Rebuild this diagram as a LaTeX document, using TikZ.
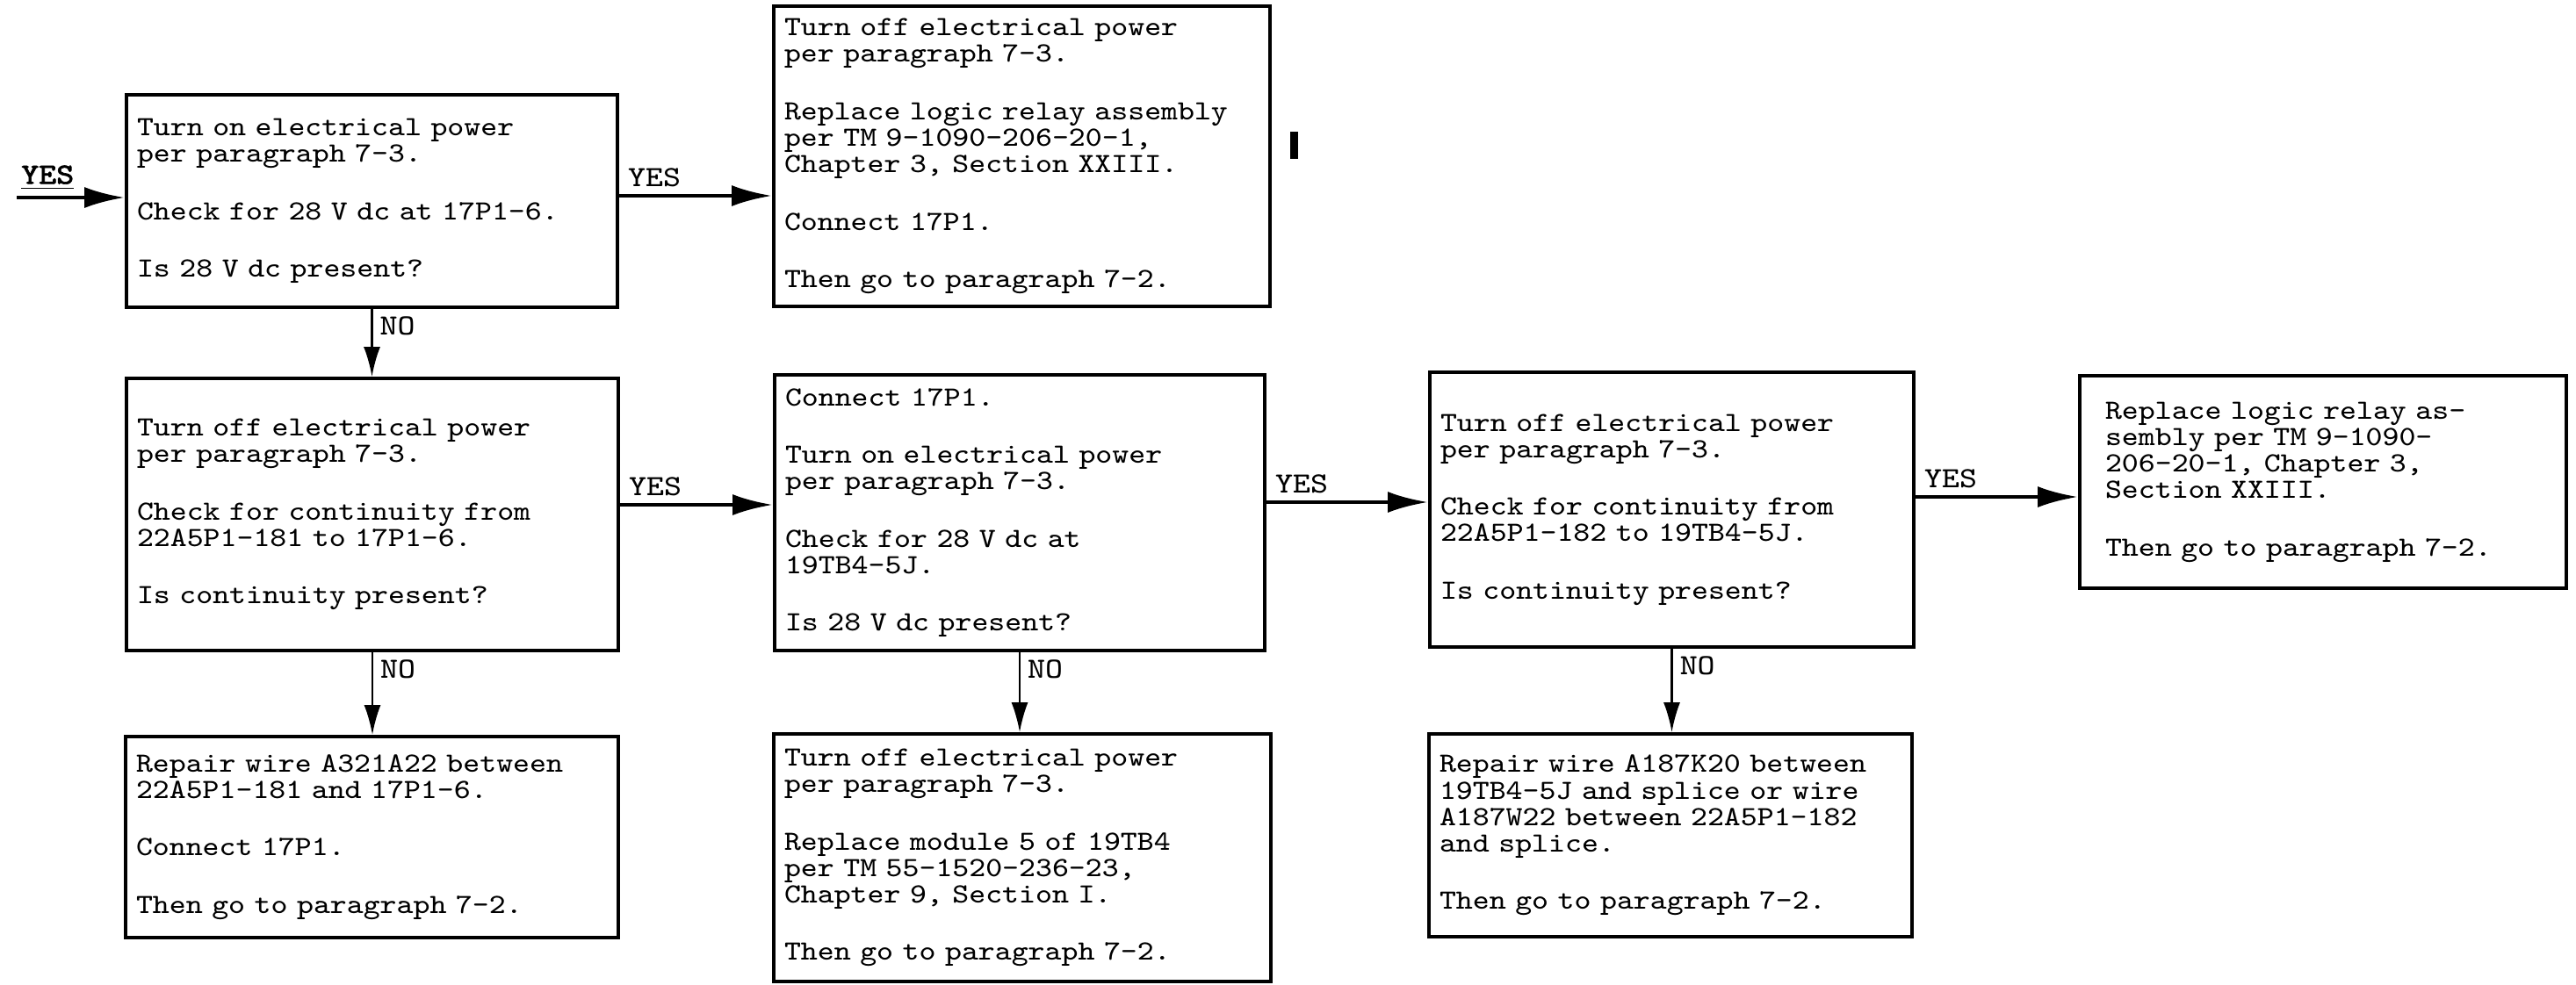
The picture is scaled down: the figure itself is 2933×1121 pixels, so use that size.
\documentclass[tikz,border=0pt]{standalone}
\usepackage{fontspec}
\usetikzlibrary{arrows.meta}
\newfontfamily\typefont[FakeStretch=1.14]{Latin Modern Mono}
\newfontfamily\typebold[FakeStretch=1.14,FakeBold=2]{Latin Modern Mono}
\tikzset{
  tbox/.style={draw,line width=1.1pt,align=left,inner xsep=1.2mm,inner ysep=0pt,font=\typefont\fontsize{9}{8.6}\selectfont},
  yesline/.style={line width=1.3pt,-{Latex[length=4.6mm,width=2.4mm]}},
  noline/.style={line width=0.7pt,-{Latex[length=3.4mm,width=1.9mm]}},
  lbl/.style={font=\typefont\fontsize{9.5}{10}\selectfont,inner sep=0.8mm}
}
\newcommand{\gap}{\\[10pt]}

\begin{document}
\begin{tikzpicture}[x=0.1mm,y=-0.1mm]
\useasboundingbox (0,0) rectangle (2933,1121);
% top row
\node[tbox,minimum height=24.2mm,text width=53.5mm] (chkpwr) at (423.5,229) {Turn on electrical power\\per paragraph 7-3.\gap Check for 28 V dc at 17P1-6.\gap Is 28 V dc present?};
\node[tbox,minimum height=34.2mm,text width=54.1mm] (replrelay) at (1163.5,178) {Turn off electrical power\\per paragraph 7-3.\gap Replace logic relay assembly\\per TM 9-1090-206-20-1,\\Chapter 3, Section XXIII.\gap Connect 17P1.\gap Then go to paragraph 7-2.};
\fill (1469,150) rectangle (1478,181);
% middle row
\node[tbox,minimum height=31mm,text width=53.6mm] (chkcont) at (424,586) {Turn off electrical power\\per paragraph 7-3.\gap Check for continuity from\\22A5P1-181 to 17P1-6.\gap Is continuity present?};
\node[tbox,minimum height=31.4mm,text width=53.4mm] (chkvolt) at (1161,584) {Connect 17P1.\gap Turn on electrical power\\per paragraph 7-3.\gap Check for 28 V dc at\\19TB4-5J.\gap Is 28 V dc present?};
\node[tbox,minimum height=31.3mm,text width=52.7mm] (chkcontb) at (1903.5,580.5) {Turn off electrical power\\per paragraph 7-3.\gap Check for continuity from\\22A5P1-182 to 19TB4-5J.\gap Is continuity present?};
\node[tbox,minimum height=24.2mm,text width=49.6mm,inner xsep=2.9mm] (replrelayb) at (2645,549) {Replace logic relay as-\\sembly per TM 9-1090-\\206-20-1, Chapter 3,\\Section XXIII.\gap Then go to paragraph 7-2.};
% bottom row
\node[tbox,minimum height=22.9mm,text width=53.7mm] (repwire) at (423.5,953.5) {Repair wire A321A22 between\\22A5P1-181 and 17P1-6.\gap Connect 17P1.\gap Then go to paragraph 7-2.};
\node[tbox,minimum height=28.2mm,text width=54.2mm] (replmod) at (1164,977) {Turn off electrical power\\per paragraph 7-3.\gap Replace module 5 of 19TB4\\per TM 55-1520-236-23,\\Chapter 9, Section I.\gap Then go to paragraph 7-2.};
\node[tbox,minimum height=23.1mm,text width=52.6mm] (repwireb) at (1902,951.5) {Repair wire A187K20 between\\19TB4-5J and splice or wire\\A187W22 between 22A5P1-182\\and splice.\gap Then go to paragraph 7-2.};
% connectors
\coordinate (entry) at (19,225);
\draw[yesline] (entry) -- (entry -| chkpwr.west) node[lbl,pos=0,anchor=south west,inner sep=0.3mm,yshift=0.3mm,font=\typebold\fontsize{9.5}{10}\selectfont]{\underline{YES}};
\draw[yesline] ([yshift=0.6mm]chkpwr.east) -- ([yshift=0.6mm]chkpwr.east -| replrelay.west) node[lbl,pos=0,anchor=south west]{YES};
\draw[yesline] ([yshift=1.1mm]chkcont.east) -- ([yshift=1.1mm]chkcont.east -| chkvolt.west) node[lbl,pos=0,anchor=south west]{YES};
\draw[yesline] ([yshift=1.2mm]chkvolt.east) -- ([yshift=1.2mm]chkvolt.east -| chkcontb.west) node[lbl,pos=0,anchor=south west]{YES};
\draw[yesline] ([yshift=1.45mm]chkcontb.east) -- ([yshift=1.45mm]chkcontb.east -| replrelayb.west) node[lbl,pos=0,anchor=south west]{YES};
\draw[noline] (chkpwr.south) -- (chkpwr.south |- chkcont.north) node[lbl,pos=0,anchor=north west]{NO};
\draw[noline] (chkcont.south) -- (chkcont.south |- repwire.north) node[lbl,pos=0,anchor=north west]{NO};
\draw[noline] (chkvolt.south) -- (chkvolt.south |- replmod.north) node[lbl,pos=0,anchor=north west]{NO};
\draw[noline] (chkcontb.south) -- (chkcontb.south |- repwireb.north) node[lbl,pos=0,anchor=north west]{NO};
\end{tikzpicture}
\end{document}
